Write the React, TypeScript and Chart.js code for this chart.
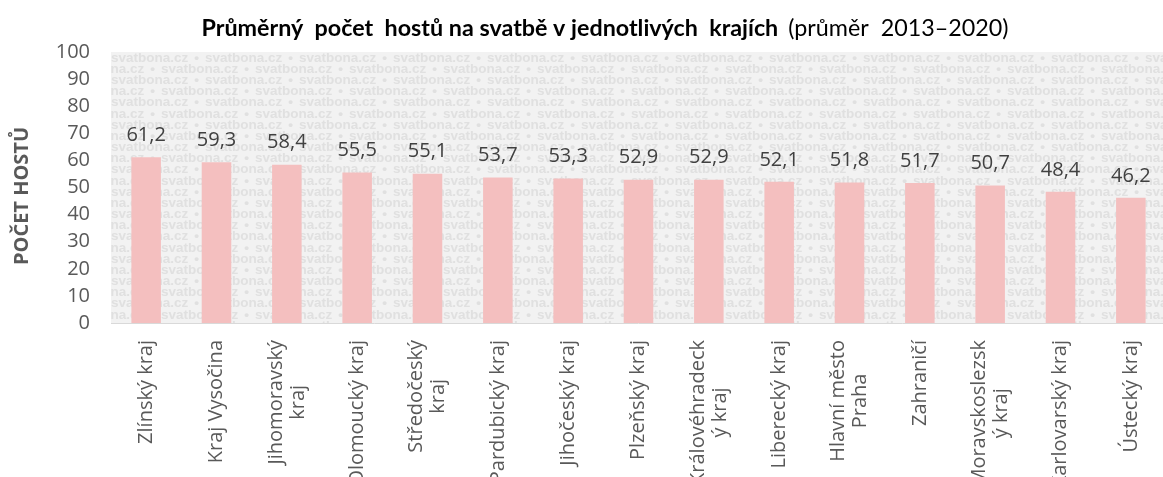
import React, { useEffect, useRef } from "react";
import { Chart, registerables } from "chart.js";

Chart.register(...registerables);

const categories: string[][] = [
  ["Zlínský kraj"],
  ["Kraj Vysočina"],
  ["Jihomoravský", "kraj"],
  ["Olomoucký kraj"],
  ["Středočeský", "kraj"],
  ["Pardubický kraj"],
  ["Jihočeský kraj"],
  ["Plzeňský kraj"],
  ["Královéhradeck", "ý kraj"],
  ["Liberecký kraj"],
  ["Hlavní město", "Praha"],
  ["Zahraničí"],
  ["Moravskoslezsk", "ý kraj"],
  ["Karlovarský kraj"],
  ["Ústecký kraj"],
];

const guests: number[] = [61.2, 59.3, 58.4, 55.5, 55.1, 53.7, 53.3, 52.9, 52.9, 52.1, 51.8, 51.7, 50.7, 48.4, 46.2];

const titleBold = "Průměrný  počet  hostů na svatbě v jednotlivých  krajích";
const titleNormal = "(průměr  2013–2020)";
const yAxisTitle = "POČET HOSTŮ";
const watermarkWord = "svatbona.cz";

const FONT = "'Open Sans', sans-serif";
const TICK_COLOR = "#595959";

const backgroundPlugin = {
  id: "wmBackground",
  beforeDatasetsDraw(chart: any) {
    const { ctx, chartArea } = chart;
    const { left, right, top, bottom } = chartArea;
    ctx.save();
    ctx.fillStyle = "#f2f2f2";
    ctx.fillRect(left, top, right - left, bottom - top);
    ctx.beginPath();
    ctx.rect(left, top, right - left, bottom - top);
    ctx.clip();
    ctx.fillStyle = "#e0e0e0";
    ctx.font = "bold 13.5px 'Liberation Sans', Arial, sans-serif";
    ctx.textBaseline = "middle";
    const wordW = ctx.measureText(watermarkWord).width;
    const period = 94;
    const rowH = 11.17;
    let row = 0;
    for (let y = top + 6; y < bottom + 8; y += rowH, row++) {
      const shift = row % 2 === 0 ? 0 : 50;
      for (let x = left + shift - period; x < right + period; x += period) {
        ctx.textAlign = "left";
        ctx.fillText(watermarkWord, x, y);
        ctx.textAlign = "center";
        ctx.fillText("•", x + wordW + (period - wordW) / 2, y);
      }
    }
    ctx.restore();
    ctx.save();
    ctx.strokeStyle = "#d9d9d9";
    ctx.lineWidth = 1;
    ctx.beginPath();
    ctx.moveTo(left, bottom + 0.5);
    ctx.lineTo(right, bottom + 0.5);
    ctx.stroke();
    ctx.restore();
  },
};

const overlayPlugin = {
  id: "overlay",
  afterDatasetsDraw(chart: any) {
    const { ctx } = chart;
    const meta = chart.getDatasetMeta(0);
    const data = chart.data.datasets[0].data as number[];
    ctx.save();
    // value labels
    ctx.fillStyle = "#404040";
    ctx.font = `20px ${FONT}`;
    ctx.textAlign = "center";
    ctx.textBaseline = "middle";
    meta.data.forEach((bar: any, i: number) => {
      ctx.fillText(data[i].toFixed(1).replace(".", ","), bar.x, bar.y - 22);
    });
    // category labels
    const xScale = chart.scales.x;
    ctx.fillStyle = TICK_COLOR;
    ctx.font = `20px ${FONT}`;
    const labels = chart.data.labels as string[][];
    const lineH = 22;
    labels.forEach((lines: string[], i: number) => {
      const x = xScale.getPixelForValue(i);
      const maxW = Math.max(...lines.map((l) => ctx.measureText(l).width));
      ctx.save();
      ctx.translate(x, chart.chartArea.bottom + 17);
      ctx.rotate(-Math.PI / 2);
      ctx.textAlign = "center";
      ctx.textBaseline = "middle";
      lines.forEach((l, j) => {
        ctx.fillText(l, -maxW / 2, (j - (lines.length - 1) / 2) * lineH);
      });
      ctx.restore();
    });
    // y axis title
    ctx.save();
    ctx.translate(22, 196);
    ctx.rotate(-Math.PI / 2);
    ctx.font = `bold 20px ${FONT}`;
    ctx.fillStyle = TICK_COLOR;
    ctx.textAlign = "center";
    ctx.textBaseline = "middle";
    ctx.fillText(yAxisTitle, 0, 0);
    ctx.restore();
    // title
    const boldFont = "bold 23.3px Lato, sans-serif";
    const normFont = "23.3px Lato, sans-serif";
    ctx.font = boldFont;
    const wb = ctx.measureText(titleBold).width;
    ctx.font = normFont;
    const gap = 10;
    const wn = ctx.measureText(titleNormal).width;
    const total = wb + gap + wn;
    const startX = 605 - total / 2;
    ctx.textAlign = "left";
    ctx.textBaseline = "middle";
    ctx.fillStyle = "#000000";
    ctx.font = boldFont;
    ctx.fillText(titleBold, startX, 28);
    ctx.font = normFont;
    ctx.fillText(titleNormal, startX + wb + gap, 28);
    ctx.restore();
  },
};

export default function App() {
  const canvasRef = useRef<HTMLCanvasElement | null>(null);

  useEffect(() => {
    document.body.style.margin = "0";
    document.body.style.overflow = "hidden";
    const canvas = canvasRef.current;
    if (!canvas) return;
    const chart = new Chart(canvas, {
      type: "bar",
      data: {
        labels: categories,
        datasets: [
          {
            data: guests,
            backgroundColor: "#f4bfbf",
            borderWidth: 0,
            categoryPercentage: 1,
            barPercentage: 0.42,
          },
        ],
      },
      options: {
        responsive: false,
        animation: false,
        devicePixelRatio: 1,
        layout: { padding: { top: 52, left: 0, right: 0, bottom: 0 } },
        plugins: {
          legend: { display: false },
          tooltip: { enabled: false },
          title: { display: false },
        },
        scales: {
          x: {
            grid: { display: false, drawTicks: false },
            border: { display: false },
            ticks: { display: false },
            afterFit: (scale: any) => {
              scale.height = 154;
            },
          },
          y: {
            min: 0,
            max: 100,
            grid: { display: false, drawTicks: false },
            border: { display: false },
            ticks: {
              stepSize: 10,
              padding: 21,
              color: TICK_COLOR,
              font: { family: FONT, size: 20 },
            },
            afterFit: (scale: any) => {
              scale.width = 111;
            },
          },
        },
      },
      plugins: [backgroundPlugin, overlayPlugin],
    });
    return () => chart.destroy();
  }, []);

  return (
    <div style={{ width: 1166, height: 477, overflow: "hidden" }}>
      <canvas ref={canvasRef} width={1166} height={477} style={{ display: "block" }} />
    </div>
  );
}
